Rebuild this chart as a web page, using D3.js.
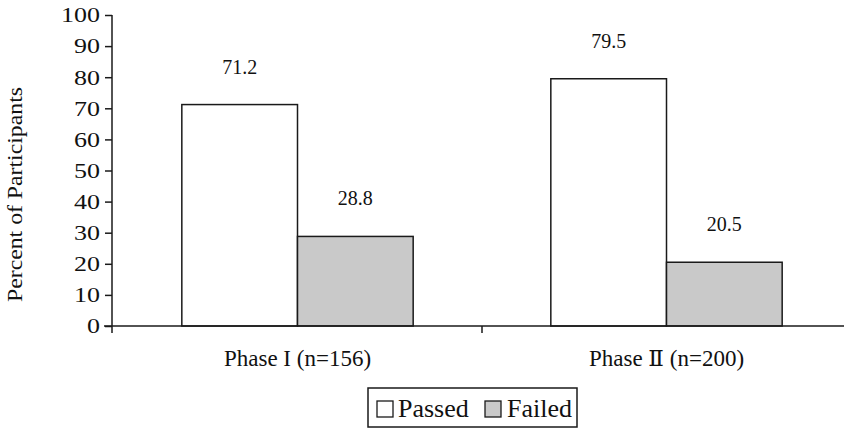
<!DOCTYPE html>
<html>
<head>
<meta charset="utf-8">
<script src="https://cdn.jsdelivr.net/npm/d3@7"></script>
<style>
  html, body { margin: 0; padding: 0; background: #ffffff; }
  svg { display: block; }
  svg text { font-family: 'Liberation Serif', 'Times New Roman', 'DejaVu Serif', serif !important; fill: #111; }
</style>
</head>
<body>
<svg id="chart" width="844" height="431"></svg>
<script>
const categories = ["Phase I (n=156)", "Phase \u2161 (n=200)"];
const seriesNames = ["Passed", "Failed"];
const passedValues = [71.2, 79.5];
const failedValues = [28.8, 20.5];
const yTickValues = [0, 10, 20, 30, 40, 50, 60, 70, 80, 90, 100];
const seriesFill = { Passed: "#ffffff", Failed: "#c9c9c9" };
const serif = "'Liberation Serif', 'Times New Roman', 'DejaVu Serif', serif";

const rows = categories.map((c, i) => ({
  category: c,
  values: [
    { series: "Passed", value: passedValues[i] },
    { series: "Failed", value: failedValues[i] }
  ]
}));

const svg = d3.select("#chart");
const ink = "#1a1a1a";

const y = d3.scaleLinear().domain([0, 100]).range([326, 15]);
const x0 = d3.scaleBand().domain(categories).range([113, 851]).paddingInner(0).paddingOuter(0);
const x1 = d3.scaleBand().domain(seriesNames).range([0, x0.bandwidth()]).paddingInner(0).paddingOuter(0.595);

// Bars
const groups = svg.append("g").selectAll("g").data(rows).join("g")
  .attr("transform", d => `translate(${x0(d.category)},0)`);

groups.selectAll("rect").data(d => d.values).join("rect")
  .attr("x", d => x1(d.series))
  .attr("y", d => y(d.value))
  .attr("width", x1.bandwidth())
  .attr("height", d => y(0) - y(d.value))
  .attr("fill", d => seriesFill[d.series])
  .attr("stroke", ink)
  .attr("stroke-width", 1.5);

groups.selectAll("text.val").data(d => d.values).join("text")
  .attr("class", "val")
  .attr("x", d => x1(d.series) + x1.bandwidth() / 2)
  .attr("y", d => y(d.value) - 31)
  .attr("text-anchor", "middle")
  .style("font-family", serif)
  .style("font-size", "20px")
  .text(d => d.value.toFixed(1));

// Y axis
const yAxis = svg.append("g").attr("transform", "translate(112,0)")
  .call(d3.axisLeft(y).tickValues(yTickValues).tickSize(7).tickPadding(0).tickFormat(d3.format("d")));
yAxis.attr("font-family", null).attr("font-size", null);
yAxis.select(".domain").remove();
yAxis.selectAll(".tick line").attr("stroke", ink).attr("stroke-width", 1.5);
yAxis.selectAll(".tick text")
  .style("font-family", serif)
  .style("font-size", "20px")
  .attr("fill", "#111")
  .attr("x", -12 / 1.3)
  .attr("dy", "0.34em")
  .attr("transform", "scale(1.3,1)");
svg.append("line")
  .attr("x1", 112).attr("x2", 112)
  .attr("y1", y(100)).attr("y2", y(0) + 7)
  .attr("stroke", ink).attr("stroke-width", 1.5);

// X axis
const xAxis = svg.append("g").attr("transform", `translate(0,${y(0)})`)
  .call(d3.axisBottom(x0).tickSize(0).tickPadding(0).tickFormat(""));
xAxis.select(".domain").remove();
svg.append("line")
  .attr("x1", 104).attr("x2", 844)
  .attr("y1", y(0)).attr("y2", y(0))
  .attr("stroke", ink).attr("stroke-width", 1.5);
svg.append("g").selectAll("line").data(categories.slice(1)).join("line")
  .attr("x1", d => x0(d)).attr("x2", d => x0(d))
  .attr("y1", y(0)).attr("y2", y(0) + 7)
  .attr("stroke", ink).attr("stroke-width", 1.5);
svg.append("g").selectAll("text").data(categories).join("text")
  .attr("x", d => x0(d) + x0.bandwidth() / 2)
  .attr("y", 366)
  .attr("text-anchor", "middle")
  .style("font-family", serif)
  .style("font-size", "23px")
  .text(d => d);

// Y axis title
svg.append("text")
  .attr("transform", "translate(21.5,194.5) rotate(-90)")
  .attr("text-anchor", "middle")
  .style("font-family", serif)
  .style("font-size", "20px")
  .attr("textLength", 215)
  .attr("lengthAdjust", "spacingAndGlyphs")
  .text("Percent of Participants");

// Legend
const legend = svg.append("g");
legend.append("rect")
  .attr("x", 368).attr("y", 388).attr("width", 209).attr("height", 39)
  .attr("fill", "#ffffff").attr("stroke", ink).attr("stroke-width", 1.5);
const legendItems = [
  { name: seriesNames[0], sx: 377, tx: 398 },
  { name: seriesNames[1], sx: 485, tx: 507 }
];
legend.selectAll("rect.sw").data(legendItems).join("rect")
  .attr("class", "sw")
  .attr("x", d => d.sx).attr("y", 401).attr("width", 16).attr("height", 16)
  .attr("fill", d => seriesFill[d.name]).attr("stroke", ink).attr("stroke-width", 1.3);
legend.selectAll("text").data(legendItems).join("text")
  .attr("x", d => d.tx).attr("y", 417)
  .style("font-family", serif)
  .style("font-size", "26px")
  .text(d => d.name);
</script>
</body>
</html>
